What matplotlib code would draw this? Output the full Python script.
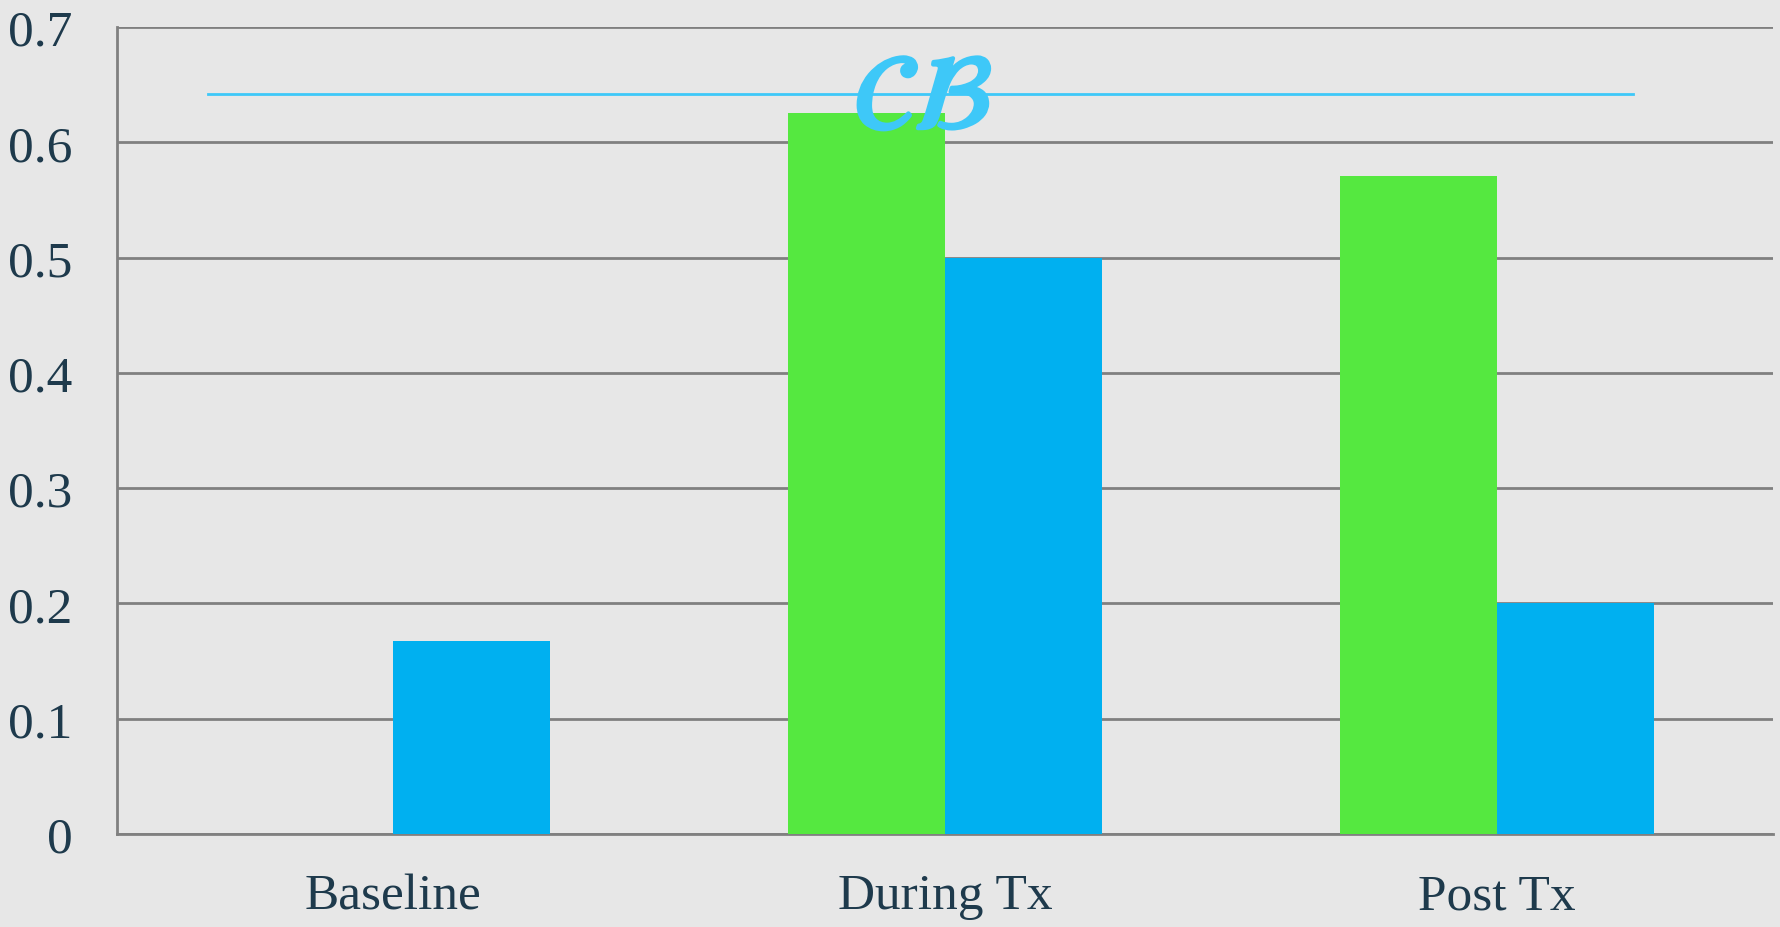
import numpy as np
import matplotlib
from matplotlib import pyplot as plt
from matplotlib.lines import Line2D
import matplotlib.patheffects as pe

matplotlib.rcParams['font.family'] = ['Liberation Serif', 'DejaVu Serif']
matplotlib.rcParams['mathtext.fontset'] = 'stix'

categories = ['Baseline', 'During Tx', 'Post Tx']
green_vals = [0.0, 0.625, 0.571]
blue_vals = [0.167, 0.5, 0.2]
y_ticks = [0, 0.1, 0.2, 0.3, 0.4, 0.5, 0.6, 0.7]
y_labels = ['0', '0.1', '0.2', '0.3', '0.4', '0.5', '0.6', '0.7']

bg = '#e7e7e7'
text_col = '#1e3a4c'
accent = '#3ec8f8'

fig = plt.figure(figsize=(17.81, 9.28), dpi=100, facecolor=bg)
ax = fig.add_axes([0.0657, 0.1002, 0.9298, 0.8696])
ax.set_facecolor(bg)

x = np.arange(len(categories))
w = 0.285
ax.bar(x - w / 2, green_vals, width=w, color='#55e840', zorder=3)
ax.bar(x + w / 2, blue_vals, width=w, color='#00b0f0', zorder=3)

ax.set_xlim(-0.5, 2.5)
ax.set_ylim(0, 0.7)
ax.set_yticks(y_ticks)
ax.set_yticklabels(y_labels)
ax.set_xticks(x)
ax.set_xticklabels(categories)
ax.grid(axis='y', color='#808080', linewidth=2, zorder=1)
ax.tick_params(axis='both', length=0, labelsize=37, colors=text_col)
ax.tick_params(axis='y', pad=32)
ax.tick_params(axis='x', pad=28)
for s in ['top', 'right']:
    ax.spines[s].set_visible(False)
for s in ['left', 'bottom']:
    ax.spines[s].set_color('#808080')
    ax.spines[s].set_linewidth(2)

# title rule with a flourish in the middle
fig.add_artist(Line2D([0.117, 0.917], [0.8976, 0.8976], color=accent,
                      linewidth=2, zorder=4))
fig.text(0.518, 0.887, r'$\mathcal{CB}$', fontsize=76, color=accent,
         ha='center', va='center', zorder=5,
         path_effects=[pe.withStroke(linewidth=3, foreground=accent)])

plt.savefig('out.png', dpi=100, facecolor=bg)
